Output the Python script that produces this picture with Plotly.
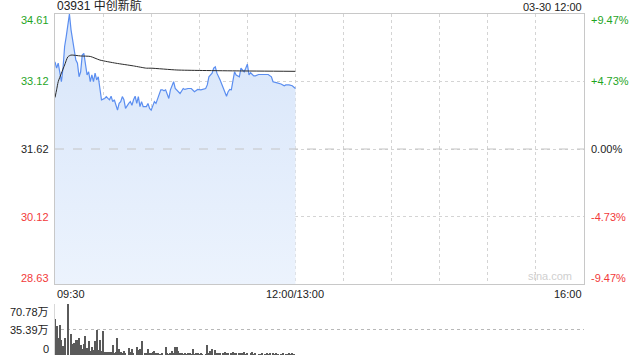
import plotly.graph_objects as go

# ---------------- data ----------------
stock_title = "03931 中创新航"
stamp = "03-30 12:00"
base_price = 31.62
price_ticks = [34.61, 33.12, 31.62, 30.12, 28.63]
pct_ticks = ["+9.47%", "+4.73%", "0.00%", "-4.73%", "-9.47%"]
time_labels = ["09:30", "12:00/13:00", "16:00"]
time_label_minutes = [0, 150, 330]
vol_ticks = [70.78, 35.39, 0]
vol_tick_text = ["70.78万", "35.39万", "0"]

price_minutes = [0, 1, 2, 4, 5, 6, 7, 9, 10, 11, 12, 13, 14, 15, 16, 17, 18, 19, 20, 21,
                 22, 23, 24, 25, 26, 27, 28, 29, 31, 32, 33, 34, 35, 36, 37, 38, 39, 40, 41, 42,
                 43, 44, 45, 46, 47, 48, 49, 50, 51, 52, 53, 54, 55, 57, 58, 59, 60, 61, 62, 63,
                 64, 65, 66, 67, 68, 69, 70, 71, 72, 73, 74, 75, 76, 78, 80, 81, 83, 85, 87, 89,
                 91, 94, 95, 96, 98, 99, 100, 101, 103, 105, 107, 108, 109, 110, 111, 112, 113, 115, 116, 117,
                 118, 119, 120, 121, 122, 124, 125, 127, 129, 131, 133, 135, 136, 138, 140, 141, 143, 144, 146, 148,
                 150]
price_values = [33.55, 33.41, 33.52, 33.11, 33.41, 33.89, 34.11, 34.61, 34.26, 34.00, 33.81, 33.59, 33.52, 33.22, 33.33, 33.70, 33.74, 33.48, 33.26, 33.33,
                33.11, 33.26, 33.11, 33.30, 33.15, 33.22, 33.00, 32.71, 32.74, 32.78, 32.74, 32.71, 32.79, 32.67, 32.71, 32.59, 32.48, 32.63, 32.67, 32.78,
                32.71, 32.52, 32.59, 32.63, 32.67, 32.59, 32.71, 32.79, 32.63, 32.78, 32.56, 32.67, 32.56, 32.56, 32.63, 32.52, 32.48, 32.59, 32.67, 32.63,
                32.74, 32.85, 32.93, 32.93, 32.91, 32.93, 32.82, 32.74, 32.93, 33.04, 33.11, 32.96, 32.93, 32.85, 32.96, 32.94, 32.96, 32.96, 32.89, 32.94,
                32.93, 32.96, 33.04, 33.22, 33.30, 33.41, 33.44, 33.30, 33.15, 32.96, 32.79, 32.89, 32.94, 32.93, 33.15, 33.33, 33.26, 33.22, 33.41, 33.37,
                33.33, 33.41, 33.50, 33.26, 33.31, 33.24, 33.24, 33.27, 33.27, 33.26, 33.27, 33.22, 33.11, 33.09, 33.08, 33.06, 33.02, 33.04, 33.04, 33.02,
                32.96]

avg_minutes = [0, 1, 2, 4, 6, 8, 10, 16, 22, 28, 38, 49, 57, 60, 76, 90, 113, 150]
avg_values = [32.76, 32.93, 33.11, 33.30, 33.48, 33.66, 33.70, 33.68, 33.67, 33.59, 33.52, 33.46, 33.41, 33.41, 33.37, 33.36, 33.35, 33.34]

vol_minutes = [0, 1, 2, 3, 4, 5, 6, 8, 10, 11, 12, 13, 14, 15, 16, 17, 18, 19, 20, 21,
               22, 23, 24, 25, 26, 27, 28, 29, 30, 31, 32, 33, 34, 35, 36, 37, 38, 39, 40, 41,
               42, 43, 44, 46, 47, 48, 49, 51, 52, 53, 54, 56, 57, 58, 59, 60, 61, 62, 63, 64,
               65, 66, 67, 69, 70, 71, 72, 73, 74, 75, 76, 77, 78, 79, 80, 81, 82, 83, 84, 85,
               86, 87, 88, 89, 90, 91, 92, 94, 95, 96, 97, 98, 100, 101, 102, 103, 105, 106, 107, 108,
               110, 111, 112, 113, 115, 116, 117, 118, 119, 120, 122, 123, 124, 125, 127, 128, 129, 131, 132, 133,
               134, 136, 137, 138, 139, 141, 142, 144, 145, 146, 147, 148, 149]
vol_values = [49.5, 40.1, 23.6, 41.0, 21.2, 12.7, 23.6, 70.78, 29.7, 15.6, 16.5, 21.2, 21.2, 23.6, 14.2, 8.0, 15.6, 26.9, 9.4, 19.8,
              6.1, 10.8, 7.1, 19.8, 34.4, 7.1, 21.2, 6.1, 33.0, 4.7, 3.8, 3.8, 4.7, 3.8, 14.2, 2.4, 3.8, 23.6, 8.0, 4.7,
              3.3, 5.7, 2.4, 9.4, 4.7, 8.0, 3.3, 10.8, 7.1, 8.0, 19.8, 3.3, 2.4, 8.0, 3.3, 2.4, 3.8, 5.7, 3.3, 2.4,
              1.4, 1.4, 2.4, 10.8, 2.4, 1.4, 2.4, 5.7, 3.3, 10.8, 10.8, 5.7, 3.3, 2.4, 1.4, 3.3, 1.4, 2.4, 2.4, 1.4,
              8.0, 1.4, 2.4, 2.4, 1.4, 2.4, 1.4, 1.4, 14.2, 2.4, 6.1, 8.0, 7.1, 2.4, 3.3, 2.4, 3.3, 3.8, 2.4, 3.3,
              2.4, 3.8, 2.4, 3.3, 2.4, 3.3, 2.4, 3.8, 1.4, 2.4, 3.3, 3.8, 1.4, 2.4, 1.4, 1.4, 2.4, 1.4, 2.4, 1.4,
              2.4, 3.3, 1.4, 2.4, 1.4, 1.4, 2.4, 1.4, 1.4, 2.4, 1.4, 3.3, 1.4]

# ---------------- styles ----------------
FONT = "Liberation Sans, Arial, Noto Sans CJK SC, sans-serif"
GREEN = "#1fa51f"
RED = "#f23a3a"
DARK = "#222222"
label_colors = [GREEN, GREEN, DARK, RED, RED]
total_minutes = 330

fig = go.Figure()

fig.add_trace(go.Scatter(
    x=price_minutes, y=price_values, mode="lines",
    line=dict(color="#5b8ef0", width=1.2),
    fill="tozeroy",
    fillgradient=dict(type="vertical",
                      colorscale=[[0, "rgba(236,243,253,1)"], [1, "rgba(215,229,250,1)"]],
                      start=price_ticks[-1], stop=price_ticks[0]),
    xaxis="x", yaxis="y", hoverinfo="skip", showlegend=False))

fig.add_trace(go.Scatter(
    x=avg_minutes, y=avg_values, mode="lines",
    line=dict(color="#2b2b2b", width=1, shape="spline", smoothing=0.6),
    xaxis="x", yaxis="y", hoverinfo="skip", showlegend=False))

fig.add_trace(go.Bar(
    x=vol_minutes, y=vol_values, width=0.7,
    marker=dict(color="#5a5a5a", line=dict(width=0)),
    xaxis="x2", yaxis="y3", hoverinfo="skip", showlegend=False))

main_domain = [0.2082, 1.0]
vol_domain = [0.0, 0.1496]

fig.update_layout(
    width=640, height=360,
    margin=dict(l=55, r=56, t=14, b=5),
    paper_bgcolor="white", plot_bgcolor="white",
    font=dict(family=FONT, size=11, color=DARK),
    bargap=0,
    xaxis=dict(domain=[0, 1], range=[0, total_minutes], tickmode="linear", tick0=0, dtick=30,
               showticklabels=False, ticks="", showgrid=True, gridcolor="#d4d4d4", griddash="dot",
               gridwidth=1, zeroline=False, showline=True, linecolor="#c8c8c8", linewidth=1,
               mirror=True, anchor="y"),
    yaxis=dict(domain=main_domain, range=[price_ticks[-1], price_ticks[0]], tickvals=price_ticks,
               showticklabels=False, ticks="", showgrid=True, gridcolor="#d4d4d4", griddash="dot",
               zeroline=False, showline=True, linecolor="#c8c8c8", linewidth=1, mirror=True,
               anchor="x"),
    xaxis2=dict(domain=[0, 1], range=[0, total_minutes], showticklabels=False, ticks="",
                showgrid=False, zeroline=False, showline=False, anchor="y3"),
    yaxis3=dict(domain=vol_domain, range=[0, vol_ticks[0]], tickvals=vol_ticks[:2],
                showticklabels=False, ticks="", showgrid=True, gridcolor="#b8b8b8", griddash="dot",
                zeroline=False, showline=True, linecolor="#d8d8d8", linewidth=1, anchor="x2"),
)

# base price dashed line
fig.add_shape(type="line", xref="x", yref="y", x0=0, x1=total_minutes, y0=base_price, y1=base_price,
              line=dict(color="#c4c4c4", width=1, dash="dash"))

ann = []
n = len(price_ticks)
for i, (v, t, c) in enumerate(zip(price_ticks, pct_ticks, label_colors)):
    shift = -6 if i == 0 else (6 if i == n - 1 else 0)
    ann.append(dict(xref="paper", yref="y", x=0, y=v, text=f"{v:.2f}", showarrow=False,
                    xanchor="right", yanchor="middle", xshift=-4, yshift=shift,
                    font=dict(color=c, size=11, family=FONT)))
    ann.append(dict(xref="paper", yref="y", x=1, y=v, text=t, showarrow=False,
                    xanchor="left", yanchor="middle", xshift=5, yshift=shift,
                    font=dict(color=c, size=11, family=FONT)))

anchors = ["left", "center", "right"]
for m, t, a in zip(time_label_minutes, time_labels, anchors):
    ann.append(dict(xref="x", yref="paper", x=m, y=main_domain[0], text=t, showarrow=False,
                    xanchor=a, yanchor="top", yshift=-2, font=dict(color=DARK, size=11, family=FONT)))

vol_shifts = [-8, -1, 6]
for v, t, s in zip(vol_ticks, vol_tick_text, vol_shifts):
    ann.append(dict(xref="paper", yref="y3", x=0, y=v, text=t, showarrow=False,
                    xanchor="right", yanchor="middle", xshift=-4, yshift=s,
                    font=dict(color=DARK, size=11, family=FONT)))

ann.append(dict(xref="paper", yref="paper", x=0, y=1, text=stock_title, showarrow=False,
                xanchor="left", yanchor="bottom", yshift=-1,
                font=dict(color=DARK, size=12, family=FONT)))
ann.append(dict(xref="paper", yref="paper", x=1, y=1, text=stamp, showarrow=False,
                xanchor="right", yanchor="bottom", yshift=-1,
                font=dict(color=DARK, size=11, family=FONT)))
ann.append(dict(xref="paper", yref="paper", x=1, y=main_domain[0], text="sina.com", showarrow=False,
                xanchor="right", yanchor="bottom", xshift=-10, yshift=0,
                font=dict(color="#cfcfcf", size=11, family=FONT)))

fig.update_layout(annotations=ann)

fig.write_html("out.html", config={"displayModeBar": False})
